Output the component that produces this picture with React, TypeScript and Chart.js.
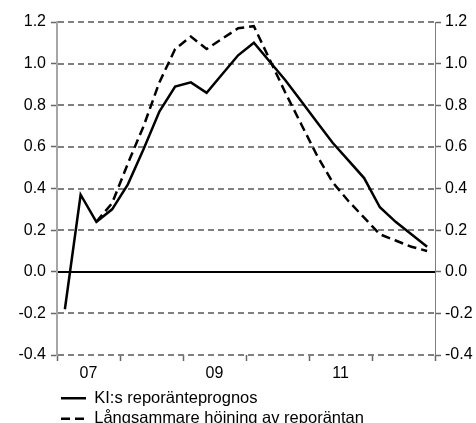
import React, { useEffect, useRef } from 'react';
import { Chart, registerables } from 'chart.js';

Chart.register(...registerables);

// Quarterly data, 2007Q1 – 2012Q4
const quarters = [
  '2007Q1', '2007Q2', '2007Q3', '2007Q4',
  '2008Q1', '2008Q2', '2008Q3', '2008Q4',
  '2009Q1', '2009Q2', '2009Q3', '2009Q4',
  '2010Q1', '2010Q2', '2010Q3', '2010Q4',
  '2011Q1', '2011Q2', '2011Q3', '2011Q4',
  '2012Q1', '2012Q2', '2012Q3', '2012Q4',
];
const yearLabels = ['07', '08', '09', '10', '11', '12'];
const shownYearLabels = ['07', '09', '11'];

const kiPrognos = [
  -0.18, 0.37, 0.24, 0.30,
  0.42, 0.59, 0.77, 0.89,
  0.91, 0.86, 0.95, 1.04,
  1.10, 1.01, 0.92, 0.82,
  0.72, 0.62, 0.535, 0.45,
  0.31, 0.24, 0.18, 0.12,
];
const slowerHike: (number | null)[] = [
  null, null, 0.24, 0.33,
  0.52, 0.70, 0.91, 1.07,
  1.13, 1.07, 1.12, 1.17,
  1.18, 1.02, 0.86, 0.71,
  0.56, 0.43, 0.34, 0.26,
  0.18, 0.15, 0.12, 0.10,
];
const seriesNames = ['KI:s reporänteprognos', 'Långsammare höjning av reporäntan'];
const yMin = -0.4;
const yMax = 1.2;
const yStep = 0.2;

const FONT = 'Arial, "Liberation Sans", Helvetica, sans-serif';
const GRID_DASH = [6, 4];

function toPoints(values: (number | null)[]) {
  const pts: { x: number; y: number }[] = [];
  values.forEach((v, i) => {
    if (v !== null && v !== undefined) pts.push({ x: i + 0.5, y: v });
  });
  return pts;
}

// Draws the horizontal grid lines of the y scale: dashed grey, solid black at zero.
const dashedGridPlugin = {
  id: 'dashedGrid',
  beforeDatasetsDraw(chart: any) {
    const { ctx, chartArea, scales } = chart;
    const ys = scales.y;
    if (!ys) return;
    ys.ticks.forEach((t: any) => {
      const py = Math.round(ys.getPixelForValue(t.value));
      const zero = Math.abs(t.value) < 1e-9;
      ctx.save();
      ctx.lineWidth = 2;
      ctx.lineCap = 'butt';
      ctx.strokeStyle = zero ? '#000000' : '#808080';
      ctx.setLineDash(zero ? [] : GRID_DASH);
      ctx.lineDashOffset = 0;
      ctx.beginPath();
      ctx.moveTo(chartArea.left + 1, py);
      ctx.lineTo(chartArea.right, py);
      ctx.stroke();
      ctx.restore();
    });
  },
};

export default function App() {
  const canvasRef = useRef<HTMLCanvasElement | null>(null);

  useEffect(() => {
    document.body.style.margin = '0';
    document.body.style.overflow = 'hidden';
    const canvas = canvasRef.current;
    if (!canvas) return;

    const chart = new Chart(canvas, {
      type: 'line',
      data: {
        datasets: [
          {
            label: seriesNames[0],
            data: toPoints(kiPrognos),
            borderColor: '#000000',
            backgroundColor: '#000000',
            borderWidth: 2.5,
            pointRadius: 0,
            tension: 0,
            yAxisID: 'y',
          },
          {
            label: seriesNames[1],
            data: toPoints(slowerHike),
            borderColor: '#000000',
            backgroundColor: '#000000',
            borderWidth: 2.5,
            borderDash: [9, 5],
            pointRadius: 0,
            tension: 0,
            yAxisID: 'y',
          },
        ],
      },
      plugins: [dashedGridPlugin],
      options: {
        responsive: false,
        animation: false,
        devicePixelRatio: 1,
        layout: { padding: { top: 22, left: 0, right: 0, bottom: 0 } },
        scales: {
          x: {
            type: 'linear',
            min: 0,
            max: quarters.length,
            afterFit: (scale: any) => {
              scale.height = 31;
            },
            border: { display: false },
            grid: {
              drawOnChartArea: false,
              drawTicks: true,
              tickLength: 6,
              tickWidth: 1.5,
              tickColor: (ctx: any) =>
                ctx.tick && Math.round(ctx.tick.value) % 4 === 0 ? '#666666' : 'rgba(0,0,0,0)',
            },
            ticks: {
              stepSize: 2,
              autoSkip: false,
              maxRotation: 0,
              padding: 3,
              color: '#000000',
              font: { family: FONT, size: 16 },
              callback: (value: any) => {
                const v = Math.round(Number(value));
                if (v % 4 === 2) {
                  const lbl = yearLabels[(v - 2) / 4];
                  return shownYearLabels.includes(lbl) ? lbl : '';
                }
                return '';
              },
            },
          },
          y: {
            type: 'linear',
            position: 'left',
            min: yMin,
            max: yMax,
            afterFit: (scale: any) => {
              scale.width = 57;
            },
            border: { display: true, color: '#a6a6a6', width: 2 },
            grid: {
              drawOnChartArea: false,
              tickLength: 6,
              tickWidth: 1.5,
              tickColor: '#666666',
            },
            ticks: {
              stepSize: yStep,
              padding: 5,
              color: '#000000',
              font: { family: FONT, size: 16 },
              callback: (value: any) => Number(value).toFixed(1),
            },
          },
          y2: {
            type: 'linear',
            position: 'right',
            min: yMin,
            max: yMax,
            afterFit: (scale: any) => {
              scale.width = 41;
            },
            border: { display: true, color: '#7f7f7f', width: 1 },
            grid: {
              drawOnChartArea: false,
              tickLength: 6,
              tickWidth: 1.5,
              tickColor: '#666666',
            },
            ticks: {
              stepSize: yStep,
              padding: 4,
              color: '#000000',
              font: { family: FONT, size: 16 },
              callback: (value: any) => Number(value).toFixed(1),
            },
          },
        },
        plugins: {
          legend: {
            display: true,
            position: 'bottom',
            align: 'start',
            fullSize: false,
            labels: {
              usePointStyle: true,
              pointStyle: 'line',
              pointStyleWidth: 25,
              padding: 4,
              color: '#000000',
              font: { family: FONT, size: 16.5 },
              generateLabels: (ch: any) => {
                const items = Chart.defaults.plugins.legend.labels.generateLabels(ch);
                return items.map((item: any) => {
                  const ds: any = ch.data.datasets[item.datasetIndex];
                  return {
                    ...item,
                    lineDash: ds.borderDash || [],
                    lineWidth: ds.borderWidth,
                    strokeStyle: ds.borderColor,
                  };
                });
              },
            },
          },
          tooltip: { enabled: false },
        },
      } as any,
    });

    return () => {
      chart.destroy();
    };
  }, []);

  return (
    <div style={{ position: 'absolute', left: 0, top: 0, width: 476, height: 423, overflow: 'hidden', background: '#ffffff' }}>
      <canvas ref={canvasRef} width={476} height={437} style={{ display: 'block' }} />
    </div>
  );
}
